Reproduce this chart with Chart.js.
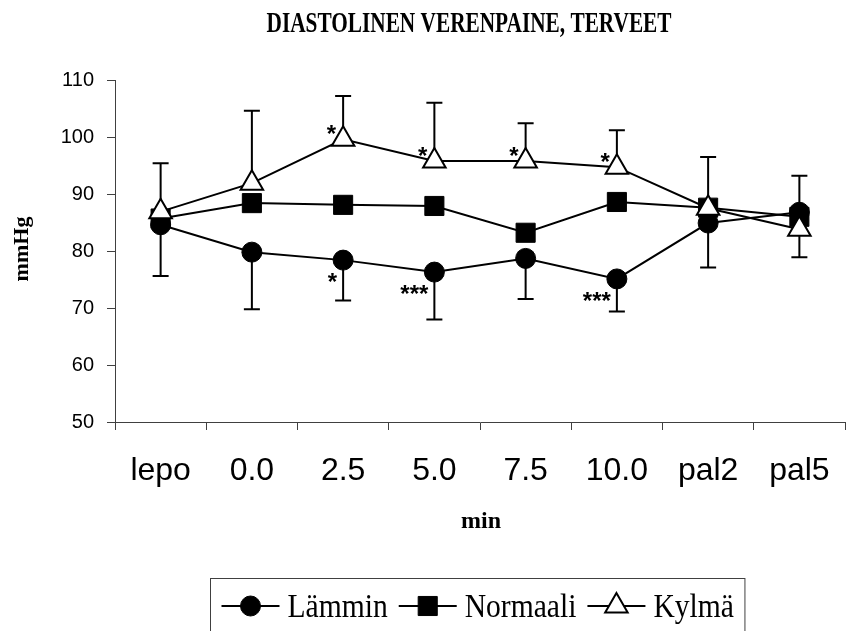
<!DOCTYPE html>
<html>
<head>
<meta charset="utf-8">
<script src="https://cdn.jsdelivr.net/npm/chart.js@4/dist/chart.umd.min.js"></script>
<style>
  html, body { margin: 0; padding: 0; background: #fff; overflow: hidden; }
  #wrap { width: 850px; height: 631px; overflow: hidden; }
  canvas { display: block; }
</style>
</head>
<body>
<div id="wrap"><canvas id="bpChart" width="860" height="631"></canvas></div>
<script>
// measurement points
const categories = ['lepo', '0.0', '2.5', '5.0', '7.5', '10.0', 'pal2', 'pal5'];

// mean diastolic pressure per group (mmHg)
const lammin   = [84.6, 79.8, 78.4, 76.3, 78.7, 75.1, 84.9, 86.8];
const normaali = [85.7, 88.4, 88.1, 87.9, 83.2, 88.6, 87.6, 86.0];
const kylma    = [86.9, 91.9, 99.6, 95.8, 95.8, 94.7, 87.5, 83.8];

// one-sided SD bars: Lämmin downwards, Kylmä upwards
const lamminLow  = [75.6, 69.8, 71.3, 68.0, 71.6, 69.4, 77.1, 78.9];
const kylmaHigh  = [95.4, 104.6, 107.2, 106.0, 102.4, 101.2, 96.5, 93.2];

// significance marks
const lamminStars = ['', '', '*', '***', '', '***', '', ''];
const kylmaStars  = ['', '', '*', '*', '*', '*', '', ''];

const yTicks = [50, 60, 70, 80, 90, 100, 110];

const SANS = "'Liberation Sans', Arial, sans-serif";
const SERIF = "'Liberation Serif', 'Times New Roman', serif";
const AXIS = '#404040';

const markers = {
  lammin:   { pointStyle: 'circle',   radius: 10, borderWidth: 1, fill: '#000', stroke: '#000' },
  normaali: { pointStyle: 'rect',     radius: 13.5, borderWidth: 1, fill: '#000', stroke: '#000' },
  kylma:    { pointStyle: 'triangle', radius: 13, borderWidth: 2, fill: '#fff', stroke: '#000' }
};

function series(label, data, m, order) {
  return {
    label: label,
    data: data,
    order: order,
    borderColor: '#000',
    borderWidth: 2,
    tension: 0,
    pointStyle: m.pointStyle,
    pointRadius: m.radius,
    pointHoverRadius: m.radius,
    pointBackgroundColor: m.fill,
    pointBorderColor: m.stroke,
    pointBorderWidth: m.borderWidth,
    _marker: m
  };
}

// scaled text helper: squeezes text horizontally by factor sx
function drawSqueezed(ctx, text, x, y, sx, align) {
  ctx.save();
  ctx.translate(x, y);
  ctx.scale(sx, 1);
  ctx.textAlign = align || 'left';
  ctx.fillText(text, 0, 0);
  ctx.restore();
}

const decorations = {
  id: 'decorations',
  beforeDatasetsDraw(chart) {
    const ctx = chart.ctx, xs = chart.scales.x, ys = chart.scales.y;
    const cap = 8;
    ctx.save();
    ctx.strokeStyle = '#000';
    ctx.lineWidth = 2;
    const bar = (i, from, to) => {
      const px = xs.getPixelForValue(i);
      const y1 = ys.getPixelForValue(from), y2 = ys.getPixelForValue(to);
      ctx.beginPath();
      ctx.moveTo(px, y1);
      ctx.lineTo(px, y2);
      ctx.moveTo(px - cap, y2);
      ctx.lineTo(px + cap, y2);
      ctx.stroke();
    };
    categories.forEach((c, i) => {
      bar(i, lammin[i], lamminLow[i]);
      bar(i, kylma[i], kylmaHigh[i]);
    });
    ctx.restore();
  },
  afterDraw(chart) {
    const ctx = chart.ctx, xs = chart.scales.x, ys = chart.scales.y;
    const area = chart.chartArea;
    const mid = (area.left + area.right) / 2;
    ctx.save();
    ctx.fillStyle = '#000';
    ctx.textBaseline = 'alphabetic';

    // chart title, condensed bold serif
    ctx.font = 'bold 30px ' + SERIF;
    const title = 'DIASTOLINEN VERENPAINE, TERVEET';
    const tw = ctx.measureText(title).width;
    drawSqueezed(ctx, title, mid - 11, 32, 405 / tw, 'center');

    // axis titles
    ctx.font = 'bold 24px ' + SERIF;
    ctx.textAlign = 'center';
    ctx.fillText('min', mid + 1, 528);
    ctx.save();
    ctx.translate(28, 249);
    ctx.rotate(-Math.PI / 2);
    ctx.font = 'bold 22px ' + SERIF;
    ctx.fillText('mmHg', 0, 0);
    ctx.restore();

    // significance asterisks next to the points
    ctx.font = 'bold 24px ' + SANS;
    ctx.textAlign = 'right';
    categories.forEach((c, i) => {
      const px = xs.getPixelForValue(i);
      if (kylmaStars[i]) ctx.fillText(kylmaStars[i], px - 7, ys.getPixelForValue(kylma[i]) + 3);
      if (lamminStars[i]) ctx.fillText(lamminStars[i], px - 6, ys.getPixelForValue(lammin[i]) + 30);
    });

    // legend box: line-marker-line followed by the series name
    ctx.font = '34px ' + SERIF;
    const sx = 0.87, lineLen = 58, gapText = 8, gap = 11;
    const items = chart.data.datasets.map(ds => ({
      label: ds.label, m: ds._marker, w: ctx.measureText(ds.label).width * sx
    }));
    const boxW = gap + items.reduce((s, it) => s + lineLen + gapText + it.w + gap, 0);
    const boxL = Math.round(mid - 3 - boxW / 2) + 0.5, boxT = 578.5;
    ctx.strokeStyle = AXIS;
    ctx.lineWidth = 1;
    ctx.strokeRect(boxL, boxT, boxW, 80);
    let cx = boxL + gap;
    const ly = 606;
    items.forEach(it => {
      ctx.strokeStyle = '#000';
      ctx.lineWidth = 2;
      ctx.beginPath();
      ctx.moveTo(cx, ly);
      ctx.lineTo(cx + lineLen, ly);
      ctx.stroke();
      ctx.fillStyle = it.m.fill;
      ctx.strokeStyle = it.m.stroke;
      ctx.lineWidth = it.m.borderWidth;
      Chart.helpers.drawPoint(ctx, {
        pointStyle: it.m.pointStyle, radius: it.m.radius,
        borderWidth: it.m.borderWidth, rotation: 0
      }, cx + lineLen / 2, ly);
      ctx.fillStyle = '#000';
      drawSqueezed(ctx, it.label, cx + lineLen + gapText, 617, sx, 'left');
      cx += lineLen + gapText + it.w + gap;
    });
    ctx.restore();
  }
};

const ctx = document.getElementById('bpChart').getContext('2d');
const bpChart = new Chart(ctx, {
  type: 'line',
  data: {
    labels: categories,
    datasets: [
      series('Lämmin', lammin, markers.lammin, 2),
      series('Normaali', normaali, markers.normaali, 1),
      series('Kylmä', kylma, markers.kylma, 0)
    ]
  },
  options: {
    responsive: false,
    devicePixelRatio: 1,
    animation: false,
    layout: { padding: { left: 0, top: 80, right: 4, bottom: 0 } },
    plugins: {
      legend: { display: false },
      tooltip: { enabled: false },
      title: { display: false }
    },
    scales: {
      x: {
        type: 'category',
        offset: true,
        grid: {
          offset: true,
          drawOnChartArea: false,
          drawTicks: true,
          tickLength: 8,
          color: AXIS,
          lineWidth: 1
        },
        border: { display: true, color: AXIS, width: 1 },
        ticks: {
          color: '#000',
          font: { family: SANS, size: 32 },
          padding: 22,
          maxRotation: 0,
          autoSkip: false
        },
        afterFit(scale) { scale.height = 209; }
      },
      y: {
        min: yTicks[0],
        max: yTicks[yTicks.length - 1],
        afterBuildTicks(scale) { scale.ticks = yTicks.map(v => ({ value: v })); },
        grid: {
          drawOnChartArea: false,
          drawTicks: true,
          tickLength: 8,
          color: AXIS,
          lineWidth: 1
        },
        border: { display: true, color: AXIS, width: 1 },
        ticks: {
          color: '#000',
          font: { family: SANS, size: 20 },
          padding: 13
        },
        afterFit(scale) { scale.width = 115; }
      }
    }
  },
  plugins: [decorations]
});
</script>
</body>
</html>
